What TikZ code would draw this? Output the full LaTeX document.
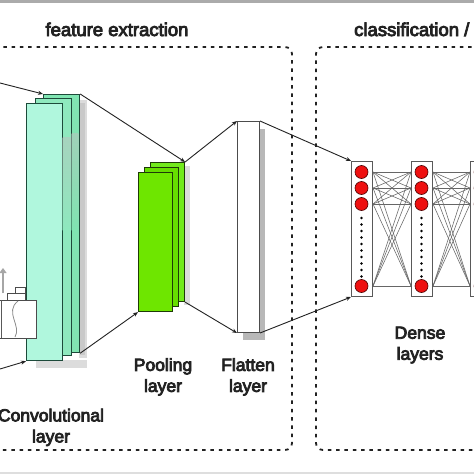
\documentclass[tikz,border=0pt]{standalone}
\usepackage{fontspec}
\usetikzlibrary{arrows.meta}
\newfontfamily\labfont{Liberation Sans}[FakeBold=4.5]
\definecolor{convA}{HTML}{B0F7DD}
\definecolor{convB}{HTML}{8EE9BE}
\definecolor{convC}{HTML}{80E5B2}
\definecolor{convline}{HTML}{1D4A3A}
\definecolor{poolA}{HTML}{6EE600}
\definecolor{poolB}{HTML}{66DE00}
\definecolor{poolC}{HTML}{72EA1C}
\definecolor{poolline}{HTML}{1E3A08}
\definecolor{neuron}{HTML}{EE1010}
\definecolor{txt}{HTML}{222222}
\begin{document}
\begin{tikzpicture}[x=1pt,y=-1pt,
  lab/.style={font=\labfont\fontsize{17.5}{21}\selectfont, text=txt, align=center, inner sep=0pt, anchor=north},
  head/.style={font=\labfont\fontsize{18.5}{22}\selectfont, text=txt, inner sep=0pt},
  frame/.style={draw=txt, line width=1.8pt, dash pattern=on 3.5pt off 4.8pt, rounded corners=7pt},
  convbox/.style={draw=convline, line width=1.2pt, anchor=north west, inner sep=0pt, minimum width=36pt},
  poolbox/.style={draw=poolline, line width=1.1pt, anchor=north west, inner sep=0pt, minimum width=34pt, minimum height=139pt},
  densebox/.style={draw=black!65, fill=white, line width=1pt, anchor=north west, inner sep=0pt, minimum width=21pt, minimum height=135pt},
  neur/.style={circle, draw=black!70!red, fill=neuron, line width=0.6pt, minimum size=13pt, inner sep=0pt},
  arr/.style={draw=txt, line width=0.9pt, -{Stealth[length=5pt,width=4pt]}},
  link/.style={draw=black!60, line width=0.55pt},
  shadowfill/.style={fill=black!30, opacity=0.45},
]
\useasboundingbox (0,0) rectangle (474,474);
\clip (0,0) rectangle (474,474);
\fill[white] (0,0) rectangle (474,474);
% bands
\fill[black!33] (0,0) rectangle (474,3);
\fill[black!13] (0,472) rectangle (474,474);
% frames
\draw[frame] (-5,47) -- (292,47) -- (292,450) -- (-5,450);
\draw[frame] (480,47) -- (316,47) -- (316,450) -- (480,450);
% headings
\node[head, anchor=base] (hfe) at (117,36) {feature extraction};
\node[head, anchor=base west] (hcl) at (354,36) {classification /};
% conv shadows
\fill[shadowfill] (79,100) rectangle (87,358);
\fill[shadowfill] (36,360) rectangle (87,368);
\fill[shadowfill] (80,103) rectangle (85,355);
% conv layer
\node[convbox, fill=convC, minimum height=258pt] (c3) at (43,94) {};
\node[convbox, fill=convB, minimum height=257pt] (c2) at (35,98) {};
\node[convbox, fill=convA, minimum height=257pt] (c1) at (26,103) {};
\shade[top color=black!25, bottom color=convB, opacity=0.5] (62.6,137) rectangle (70.4,230);
\shade[top color=black!25, bottom color=convC, opacity=0.5] (71.6,133) rectangle (78.4,230);
% input icon
\draw[black!35, line width=2.2pt, -{Triangle[length=5pt,width=7pt]}] (3,293) -- (3,268);
\draw[fill=white, draw=black!70, line width=0.8pt] (15,287) rectangle (25,293);
\draw[fill=white, draw=black!70, line width=0.8pt] (7,293) rectangle (25,300);
\draw[fill=white, draw=black!70, line width=0.9pt] (-2,300) rectangle (36,338);
\draw[black!65, line width=1.6pt] (1.5,300) -- (1.5,338);
\draw[black!45, line width=0.8pt] (18,301) .. controls (4,312) and (22,326) .. (15,337);
% pooling
\fill[shadowfill] (184,166) rectangle (190,305);
\node[poolbox, fill=poolC] (p3) at (150,162) {};
\node[poolbox, fill=poolB] (p2) at (144,167) {};
\node[poolbox, fill=poolA] (p1) at (138,172) {};
% flatten
\fill[black!28] (259,129) rectangle (265,340);
\fill[black!28] (243,332) rectangle (265,340);
\node[draw=black!70, fill=white, line width=1pt, anchor=north west, inner sep=0pt, minimum width=22pt, minimum height=211pt] (fl) at (237,121) {};
% dense layers
\node[densebox] (d1) at (351,161) {};
\node[densebox] (d2) at (411,161) {};
\node[densebox] (d3) at (470,161) {};
\foreach \L/\X in {d1/361.5, d2/421.5, d3/480.5} {
  \foreach \i/\Y in {1/172, 2/188, 3/204, 4/286} {
    \node[neur] (\L n\i) at (\X,\Y) {};
  }
  \foreach \k in {0,...,9} {
    \fill[black] (\X,{218+6.5*\k}) circle (1.3pt);
  }
}
\foreach \i in {1,2,3,4} {
  \foreach \j in {1,2,3,4} {
    \draw[link] (d1.east |- d1n\i) -- (d2.west |- d2n\j);
    \draw[link] (d2.east |- d2n\i) -- (d3.west |- d3n\j);
  }
}
% connectors
\coordinate (in1) at (0,83);
\coordinate (in2) at (0,369);
\draw[arr] (in1) -- (c3.north west);
\draw[arr] (in2) -- (c1.south west);
\draw[arr] (c3.north east) -- (p3.north east);
\draw[arr] (c3.south east) -- (p1.south west);
\draw[arr] (p3.north east) -- (fl.north west);
\draw[arr] (p3.south east) -- (fl.south west);
\draw[arr] (fl.north east) -- (d1.north west);
\draw[arr] (fl.south east) -- (d1.south west);
% labels
\node[lab] (lconv) at (51,408.5) {Convolutional\\layer};
\node[lab] (lpool) at (163,358) {Pooling\\layer};
\node[lab] (lflat) at (248,358) {Flatten\\layer};
\node[lab] (ldense) at (420,326.5) {Dense\\layers};
\end{tikzpicture}
\end{document}
